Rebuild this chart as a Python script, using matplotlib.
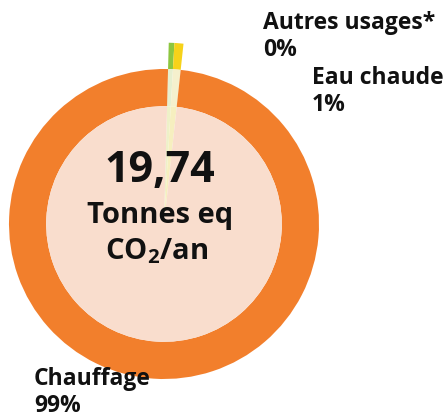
"""Donut des emissions CO2 par usage (chauffage / eau chaude / autres)."""
import matplotlib
matplotlib.use("Agg")
import matplotlib.pyplot as plt

# donnees
usages = ["Autres usages*", "Eau chaude", "Chauffage"]
parts = [0.5, 0.8, 98.7]          # part dessinee (%)
etiquettes = ["0%", "1%", "99%"]
total = "19,74"

ORANGE = "#f27f2c"
PEACH = "#f9ddcd"
VERT = "#8dc63f"
JAUNE = "#f6d21a"
couleurs_ext = [VERT, JAUNE, "none"]
couleurs_anneau = ["#e6efcf", "#f5f0cd", ORANGE]
couleurs_disque = ["#eef1c8", "#f6efbf", PEACH]
TXT = "#111111"

plt.rcParams.update({
    "font.family": ["Open Sans", "DejaVu Sans"],
    "font.weight": "bold",
    "mathtext.fontset": "custom",
    "mathtext.rm": "Open Sans:bold",
    "mathtext.bf": "Open Sans:bold",
})

fig = plt.figure(figsize=(4.46, 4.18), dpi=100)
fig.patch.set_facecolor("white")
ax = fig.add_axes([0, 0, 1, 1])

S = 155.0  # pixels par unite de rayon
cx, cy = 164, 224


def pt(px, py):
    return (px - cx) / S, (cy - py) / S


kw = dict(startangle=88.5, counterclock=False, center=(0, 0))
# parties qui depassent
ax.pie(parts, radius=1.17, colors=couleurs_ext, wedgeprops=dict(width=0.17, linewidth=0), **kw)
# anneau orange
ax.pie(parts, radius=1.0, colors=couleurs_anneau, wedgeprops=dict(width=0.24, linewidth=0), **kw)
# disque interieur
ax.pie(parts, radius=0.76, colors=couleurs_disque, wedgeprops=dict(linewidth=0), **kw)

ax.set_xlim(-cx / S, (446 - cx) / S)
ax.set_ylim(-(418 - cy) / S, cy / S)
ax.set_aspect("equal")
ax.axis("off")

ax.text(*pt(160, 171), total, ha="center", va="center", fontsize=31, color=TXT, fontweight="bold")
ax.text(*pt(160, 216), "Tonnes eq", ha="center", va="center", fontsize=21, color=TXT, fontweight="bold")
ax.text(*pt(157, 251), r"CO$_{2}$/an", ha="center", va="center", fontsize=21, color=TXT, fontweight="bold")

pos = [(263, 11), (312, 66), (34, 367)]
for nom, lab, (px, py) in zip(usages, etiquettes, pos):
    ax.text(*pt(px, py), f"{nom}\n{lab}", ha="left", va="top", fontsize=16.5,
            color=TXT, fontweight="bold", linespacing=1.18)

fig.savefig("out.png", dpi=100, facecolor="white")
